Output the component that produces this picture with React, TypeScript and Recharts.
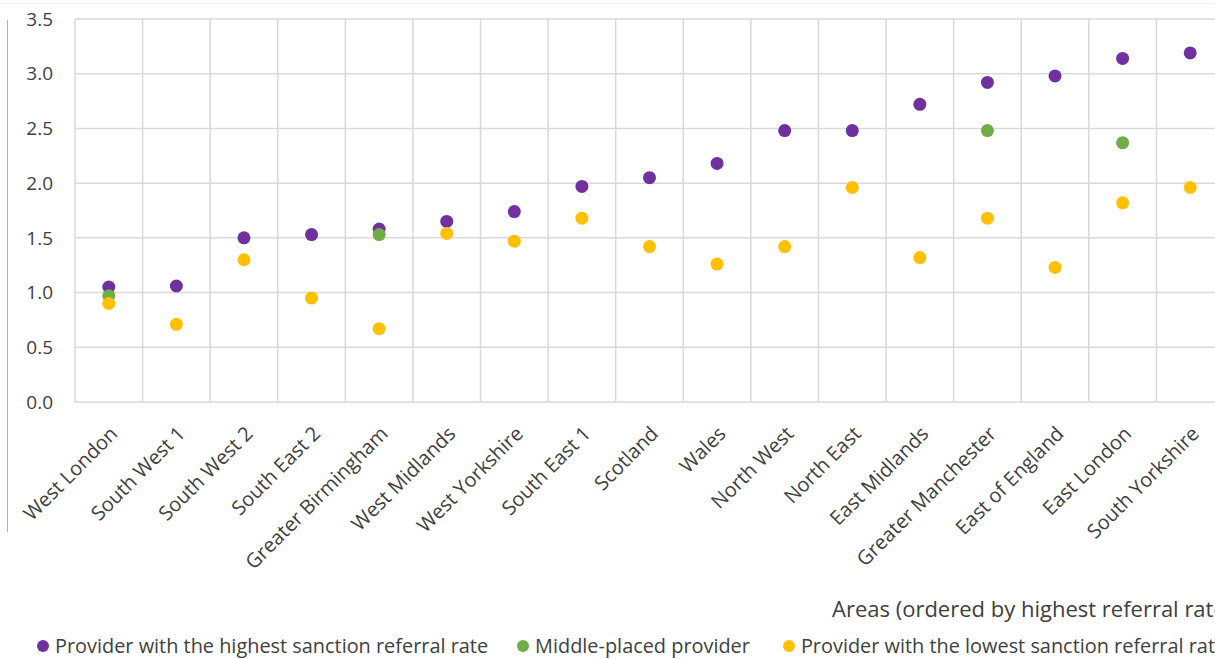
import React from "react";
import { CartesianGrid, ComposedChart, Line, XAxis, YAxis } from "recharts";

const areas = [
  "West London",
  "South West 1",
  "South West 2",
  "South East 2",
  "Greater Birmingham",
  "West Midlands",
  "West Yorkshire",
  "South East 1",
  "Scotland",
  "Wales",
  "North West",
  "North East",
  "East Midlands",
  "Greater Manchester",
  "East of England",
  "East London",
  "South Yorkshire",
];

const highest = [1.05, 1.06, 1.5, 1.53, 1.58, 1.65, 1.74, 1.97, 2.05, 2.18, 2.48, 2.48, 2.72, 2.92, 2.98, 3.14, 3.19];
const middle = [0.97, null, null, null, 1.53, null, null, null, null, null, null, null, null, 2.48, null, 2.37, null];
const lowest = [0.9, 0.71, 1.3, 0.95, 0.67, 1.54, 1.47, 1.68, 1.42, 1.26, 1.42, 1.96, 1.32, 1.68, 1.23, 1.82, 1.96];

const yTicks = [0, 0.5, 1, 1.5, 2, 2.5, 3, 3.5];

const PURPLE = "#7030a0";
const GREEN = "#70ad47";
const AMBER = "#ffc000";
const TEXT = "#404040";
const FONT = "'Open Sans', sans-serif";

const CHART_W = 1240;
const PLOT_LEFT = 75;
const PLOT_RIGHT_MARGIN = 16;
const PLOT_W = CHART_W - PLOT_LEFT - PLOT_RIGHT_MARGIN;
// half a category band on each side, so points sit mid-band like a bar chart
const HALF_BAND = PLOT_W / areas.length / 2;

const rows = areas.map((area, i) => ({
  area,
  high: highest[i],
  mid: middle[i],
  low: lowest[i],
}));

const dotFor = (fill: string) => (props: any) => {
  const { cx, cy, value, index } = props;
  if (value == null || cx == null || cy == null) return <g key={`e-${index}`} />;
  return <circle key={`d-${index}`} cx={cx} cy={cy} r={6.5} fill={fill} />;
};

const AreaTick = (props: any) => {
  const { x, y, payload } = props;
  return (
    <g transform={`translate(${x + 10},${y + 25})`}>
      <text
        transform="rotate(-45)"
        textAnchor="end"
        fill={TEXT}
        fontSize={20}
        fontFamily={FONT}
      >
        {payload.value}
      </text>
    </g>
  );
};

const legendItems = [
  { label: "Provider with the highest sanction referral rate", color: PURPLE },
  { label: "Middle-placed provider", color: GREEN },
  { label: "Provider with the lowest sanction referral rate", color: AMBER },
];

export default function App() {
  return (
    <div
      style={{
        position: "absolute",
        left: 0,
        top: 0,
        width: 1215,
        height: 659,
        overflow: "hidden",
        background: "#fff",
        fontFamily: FONT,
      }}
    >
      <div style={{ position: "absolute", left: 0, top: 3, width: 1215, height: 1, background: "#f2f2f2" }} />
      <div style={{ position: "absolute", left: 7, top: 20, width: 1, height: 512, background: "#e59aa3" }} />

      <ComposedChart
        width={CHART_W}
        height={659}
        data={rows}
        margin={{ top: 19, right: PLOT_RIGHT_MARGIN, bottom: 0, left: 0 }}
      >
        <CartesianGrid
          stroke="#d9d9d9"
          strokeWidth={1.5}
          verticalCoordinatesGenerator={({ offset }: any) =>
            areas.map((_, i) => offset.left + (i * offset.width) / areas.length).concat(offset.left + offset.width)
          }
        />
        <XAxis
          dataKey="area"
          interval={0}
          axisLine={false}
          tickLine={false}
          height={257}
          padding={{ left: HALF_BAND, right: HALF_BAND }}
          tick={<AreaTick />}
        />
        <YAxis
          width={PLOT_LEFT}
          domain={[0, 3.5]}
          ticks={yTicks}
          axisLine={false}
          tickLine={false}
          tickSize={0}
          tickMargin={22}
          tickFormatter={(v: number) => v.toFixed(1)}
          tick={{ fill: TEXT, fontSize: 19, fontFamily: FONT }}
        />
        <Line dataKey="high" stroke="transparent" strokeWidth={0} dot={dotFor(PURPLE)} activeDot={false} isAnimationActive={false} />
        <Line dataKey="mid" stroke="transparent" strokeWidth={0} dot={dotFor(GREEN)} activeDot={false} isAnimationActive={false} />
        <Line dataKey="low" stroke="transparent" strokeWidth={0} dot={dotFor(AMBER)} activeDot={false} isAnimationActive={false} />
      </ComposedChart>

      <div
        style={{
          position: "absolute",
          left: 832,
          top: 593,
          fontSize: 22,
          lineHeight: "30px",
          color: TEXT,
          whiteSpace: "nowrap",
        }}
      >
        Areas (ordered by highest referral rate)
      </div>

      <div
        style={{
          position: "absolute",
          left: 37,
          top: 632,
          height: 28,
          display: "flex",
          fontSize: 19.9,
          lineHeight: "28px",
          color: TEXT,
          whiteSpace: "nowrap",
        }}
      >
        {legendItems.map((item, i) => (
          <div
            key={item.label}
            style={{ display: "flex", alignItems: "center", marginRight: i === 0 ? 29 : 33 }}
          >
            <span
              style={{
                display: "inline-block",
                width: 12,
                height: 12,
                borderRadius: "50%",
                background: item.color,
                marginRight: 6,
              }}
            />
            {item.label}
          </div>
        ))}
      </div>
    </div>
  );
}
